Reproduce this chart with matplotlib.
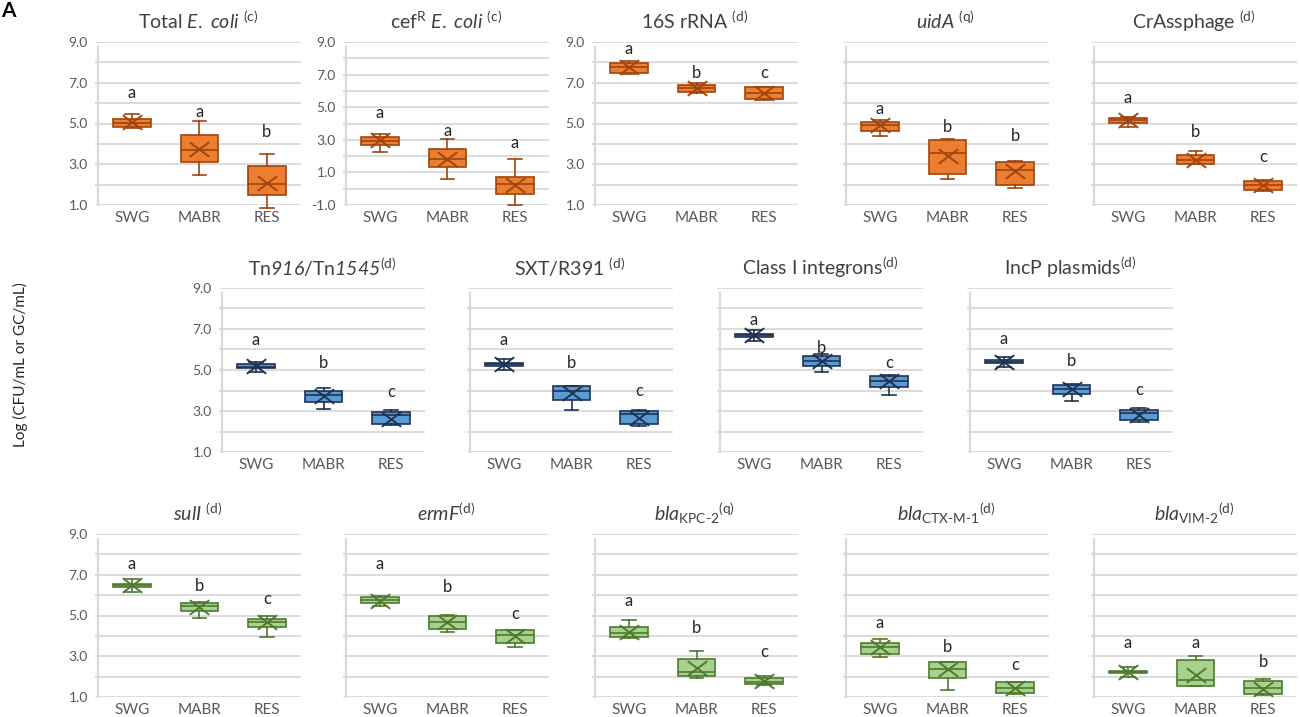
import matplotlib
matplotlib.use("Agg")
import matplotlib.pyplot as plt
from matplotlib.path import Path
from matplotlib.ticker import FixedLocator, FormatStrFormatter

plt.rcParams['font.family'] = ['Lato', 'DejaVu Sans']
plt.rcParams['mathtext.fontset'] = 'custom'
plt.rcParams['mathtext.rm'] = 'Lato'
plt.rcParams['mathtext.it'] = 'Lato:italic'
plt.rcParams['mathtext.sf'] = 'Lato:italic'
plt.rcParams['mathtext.bf'] = 'Lato:bold'
plt.rcParams['axes.unicode_minus'] = False

# ---------------- data ----------------
groups = ["SWG", "MABR", "RES"]

titles = [
    r"Total $\mathit{E.\ coli}$ $^{\mathrm{(c)}}$",
    r"cef$^{\mathrm{R}}$ $\mathit{E.\ coli}$ $^{\mathrm{(c)}}$",
    r"16S rRNA $^{\mathrm{(d)}}$",
    r"$\mathit{uidA}$ $^{\mathrm{(q)}}$",
    r"CrAssphage $^{\mathrm{(d)}}$",
    r"Tn$\mathsf{916}$/Tn$\mathsf{1545}$$^{\mathrm{(d)}}$",
    r"SXT/R391 $^{\mathrm{(d)}}$",
    r"Class I integrons$^{\mathrm{(d)}}$",
    r"IncP plasmids$^{\mathrm{(d)}}$",
    r"$\mathit{sulI}$ $^{\mathrm{(d)}}$",
    r"$\mathit{ermF}$$^{\mathrm{(d)}}$",
    r"$\mathit{bla}_{\mathrm{KPC}\text{-}\mathrm{2}}$$^{\mathrm{(q)}}$",
    r"$\mathit{bla}_{\mathrm{CTX}\text{-}\mathrm{M}\text{-}\mathrm{1}}$$^{\mathrm{(d)}}$",
    r"$\mathit{bla}_{\mathrm{VIM}\text{-}\mathrm{2}}$$^{\mathrm{(d)}}$",
]

# per panel: [SWG, MABR, RES]
whislo = [
    [4.77, 2.45, 0.85], [2.23, 0.58, -1.00], [7.45, 6.49, 6.16], [4.40, 2.26, 1.81], [4.85, 2.99, 1.68],
    [4.89, 3.09, 2.33], [5.00, 3.06, 2.28], [6.43, 4.92, 3.79], [5.16, 3.51, 2.44],
    [6.17, 4.88, 3.96], [5.45, 4.19, 3.47], [3.88, 1.94, 1.57], [2.97, 1.36, 1.16], [1.97, 1.52, 1.08],
]
q1 = [
    [4.85, 3.13, 1.50], [2.68, 1.35, -0.33], [7.50, 6.56, 6.20], [4.64, 2.50, 2.00], [5.04, 2.99, 1.76],
    [5.08, 3.46, 2.38], [5.19, 3.54, 2.36], [6.62, 5.19, 4.19], [5.32, 3.83, 2.57],
    [6.42, 5.20, 4.43], [5.61, 4.36, 3.64], [3.94, 2.02, 1.65], [3.10, 1.92, 1.21], [2.17, 1.52, 1.16],
]
med = [
    [5.04, 3.71, 2.02], [2.93, 1.82, 0.27], [7.75, 6.73, 6.49], [4.91, 3.56, 2.73], [5.17, 3.23, 1.97],
    [5.16, 3.79, 2.81], [5.28, 4.00, 2.85], [6.70, 5.45, 4.47], [5.40, 4.06, 2.90],
    [6.48, 5.45, 4.69], [5.77, 4.67, 4.02], [4.12, 2.25, 1.76], [3.43, 2.38, 1.46], [2.21, 1.84, 1.44],
]
q3 = [
    [5.21, 4.44, 2.89], [3.19, 2.44, 0.70], [7.97, 6.89, 6.78], [5.07, 4.19, 3.10], [5.28, 3.47, 2.18],
    [5.28, 4.00, 2.93], [5.36, 4.24, 3.01], [6.78, 5.68, 4.71], [5.49, 4.27, 3.06],
    [6.53, 5.61, 4.85], [5.90, 4.96, 4.27], [4.43, 2.86, 1.92], [3.67, 2.70, 1.73], [2.26, 2.83, 1.78],
]
whishi = [
    [5.47, 5.13, 3.50], [3.34, 3.05, 1.80], [8.05, 6.98, 6.81], [5.17, 4.23, 3.15], [5.32, 3.64, 2.25],
    [5.40, 4.14, 3.06], [5.52, 4.24, 3.06], [6.94, 5.76, 4.76], [5.65, 4.32, 3.14],
    [6.77, 5.64, 4.96], [5.98, 5.01, 4.27], [4.80, 3.26, 2.02], [3.86, 2.73, 1.76], [2.46, 3.02, 1.86],
]
means = [
    [5.09, 3.75, 2.10], [2.99, 1.80, 0.23], [7.75, 6.73, 6.50], [4.91, 3.39, 2.67], [5.17, 3.23, 1.97],
    [5.20, 3.75, 2.62], [5.28, 3.90, 2.68], [6.70, 5.45, 4.47], [5.40, 4.06, 2.81],
    [6.48, 5.40, 4.67], [5.72, 4.67, 3.99], [4.19, 2.42, 1.78], [3.43, 2.38, 1.44], [2.21, 2.10, 1.41],
]
letters = [
    ["a", "a", "b"], ["a", "a", "a"], ["a", "b", "c"], ["a", "b", "b"], ["a", "b", "c"],
    ["a", "b", "c"], ["a", "b", "c"], ["a", "b", "c"], ["a", "b", "c"],
    ["a", "b", "c"], ["a", "b", "c"], ["a", "b", "c"], ["a", "b", "c"], ["a", "a", "b"],
]
letter_y = [
    [6.49, 5.58, 4.60], [4.63, 3.54, 2.78], [8.64, 7.47, 7.50], [5.69, 4.83, 4.40], [6.25, 4.56, 3.35],
    [6.46, 5.32, 3.95], [6.46, 5.36, 3.98], [7.43, 6.05, 5.36], [6.49, 5.45, 4.03],
    [7.51, 6.45, 5.80], [7.51, 6.42, 5.09], [5.69, 4.40, 3.23], [4.64, 3.43, 2.59], [3.64, 3.64, 2.70],
]
y_min = [1, -1, 1, 1, 1, 1, 1, 1, 1, 1, 1, 1, 1, 1]

# ---------------- layout / style ----------------
W, H = 1300, 717
fig = plt.figure(figsize=(W / 100, H / 100), dpi=100)

row_x = [[132, 380, 629, 880, 1128], [256, 504, 754, 1004], [132, 380, 629, 880, 1128]]
row_y = [(42, 205), (288, 452), (534, 697)]
show_ylabels = [[True, True, True, False, False], [True, False, False, False], [True, False, False, False, False]]
row_face = ["#ED7D31", "#5B9BD5", "#A9D18E"]
row_edge = ["#A0450F", "#1F3350", "#4E7A2E"]
step = 67.5
grid_c = "#D9D9D9"
txt_c = "#595959"

# wide "X" marker for the mean (wider than tall, like the spreadsheet marker)
x_marker = Path([(-1, -0.75), (1, 0.75), (-1, 0.75), (1, -0.75)],
                [Path.MOVETO, Path.LINETO, Path.MOVETO, Path.LINETO])

idx = 0
for r in range(3):
    top, bot = row_y[r]
    for c, cx in enumerate(row_x[r]):
        left = cx - 0.55 * step
        width = 3.05 * step
        ax = fig.add_axes([left / W, 1 - bot / H, width / W, (bot - top) / H])
        ymin = y_min[idx]
        ax.set_xlim(0.45, 3.5)
        ax.set_ylim(ymin, 9)
        for s in ax.spines.values():
            s.set_visible(False)
        ax.yaxis.set_major_locator(FixedLocator(list(range(ymin, 10, 2))))
        ax.yaxis.set_minor_locator(FixedLocator(list(range(ymin, 10, 1))))
        ax.yaxis.set_major_formatter(FormatStrFormatter("%.1f"))
        ax.grid(axis="y", which="both", color=grid_c, lw=1.3, zorder=0)
        ax.set_axisbelow(True)
        ax.tick_params(axis="both", which="both", length=0)
        ax.tick_params(axis="y", labelsize=10, labelcolor=txt_c, pad=5)
        ax.tick_params(axis="x", labelsize=11, labelcolor=txt_c, pad=4)
        if not show_ylabels[r][c]:
            ax.set_yticklabels([])
        ax.plot([0.5, 0.5], [0, 0.97], transform=ax.get_xaxis_transform(),
                color=grid_c, lw=1.6, zorder=1, clip_on=False)

        face, edge = row_face[r], row_edge[r]
        stats = []
        for g in range(3):
            stats.append(dict(whislo=whislo[idx][g], q1=q1[idx][g], med=med[idx][g],
                              q3=q3[idx][g], whishi=whishi[idx][g], mean=means[idx][g],
                              fliers=[], label=groups[g]))
        art = ax.bxp(stats, positions=[1, 2, 3], widths=0.55, showmeans=True, meanline=False,
                     patch_artist=True, showfliers=False, capwidths=0.2,
                     boxprops=dict(facecolor=face, edgecolor=edge, lw=1.2),
                     medianprops=dict(color=edge, lw=1.2),
                     whiskerprops=dict(color=edge, lw=1.2),
                     capprops=dict(color=edge, lw=1.2),
                     meanprops=dict(marker=x_marker, markersize=14, markeredgecolor=edge,
                                    markeredgewidth=1.4, markerfacecolor="none"))
        for k in art:
            for a in art[k]:
                a.set_clip_on(False)
                a.set_zorder(3)
        ax.set_xticks([1, 2, 3])
        ax.set_xticklabels(groups)

        for g in range(3):
            ax.text(g + 1, letter_y[idx][g], letters[idx][g], ha="center", va="center",
                    fontsize=12, color="#262626")

        ax.text(0.5, 1 + 21 / (bot - top), titles[idx], transform=ax.transAxes,
                ha="center", va="center", fontsize=14, color="#404040")
        idx += 1

fig.text(20 / W, 1 - 365 / H, "Log (CFU/mL or GC/mL)", rotation=90, ha="center", va="center",
         fontsize=11, color="#262626")
fig.text(1 / W, 1 - 1 / H, "A", ha="left", va="top", fontsize=15, fontweight="bold", color="#000000")

fig.savefig("out.png", dpi=100)
